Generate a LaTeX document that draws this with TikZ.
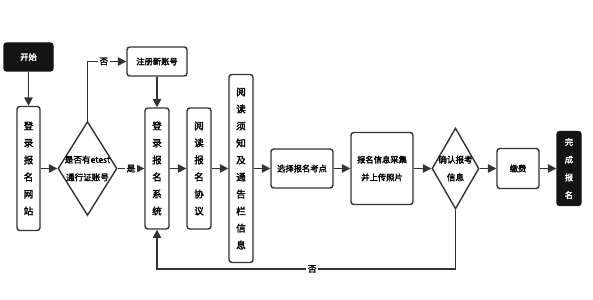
\documentclass[tikz,border=0pt]{standalone}
\usepackage{fontspec}
\setmainfont{Noto Sans CJK SC}[AutoFakeBold=2.2]
\usetikzlibrary{arrows.meta,shapes.geometric}
\definecolor{flowline}{HTML}{333333}
\definecolor{flowdark}{HTML}{141414}
\newdimen\pxu \pxu=0.025cm

\begin{document}
\begin{tikzpicture}[
  x=\pxu, y=-\pxu,
  box/.style={draw=flowline, line width=1pt, rounded corners=2pt, fill=white,
    inner sep=0pt, align=center, font=\bfseries\fontsize{5.9}{12.6}\selectfont},
  vbox/.style={box, font=\bfseries\fontsize{6.8}{12.1}\selectfont},
  term/.style={box, fill=flowdark, draw=flowdark, text=white},
  decision/.style={diamond, draw=flowline, line width=1pt, fill=white, inner sep=0pt},
  dtext/.style={align=center, inner sep=0pt, font=\bfseries\fontsize{6.1}{12.6}\selectfont},
  arr/.style={draw=flowline, line width=1.1pt, -{Triangle[length=6pt,width=6pt]}},
  lbl/.style={fill=white, inner sep=1pt, font=\bfseries\fontsize{6.3}{7}\selectfont}
]
  \fill[white] (0,0) rectangle (593,300);
  \useasboundingbox (0,0) rectangle (593,300);

  % nodes
  \node[term, minimum width=49\pxu, minimum height=28\pxu] (start) at (28.5,57) {开始};
  \node[vbox, minimum width=23\pxu, minimum height=124\pxu] (site) at (28.5,168.5) {登\\录\\报\\名\\网\\站};
  \node[decision, minimum width=59\pxu, minimum height=94\pxu] (q1) at (87.5,168.5) {};
  \node[dtext] (q1txt) at (q1) {是否有etest\\通行证账号};
  \node[box, minimum width=60\pxu, minimum height=29\pxu] (reg) at (157,61.5) {注册新账号};
  \node[vbox, minimum width=24\pxu, minimum height=121\pxu] (sys) at (157,168.5) {登\\录\\报\\名\\系\\统};
  \node[vbox, minimum width=24\pxu, minimum height=121\pxu] (proto) at (199,168.5) {阅\\读\\报\\名\\协\\议};
  \node[vbox, minimum width=24\pxu, minimum height=188\pxu] (notice) at (241,168.5) {阅\\读\\须\\知\\及\\通\\告\\栏\\信\\息};
  \node[box, minimum width=62\pxu, minimum height=39\pxu] (point) at (302,168.5) {选择报名考点};
  \node[box, minimum width=62\pxu, minimum height=72\pxu] (collect) at (382,168.5) {报名信息采集\\并上传照片};
  \node[decision, minimum width=47\pxu, minimum height=81\pxu] (q2) at (455.5,168.5) {};
  \node[dtext] (q2txt) at (q2) {确认报考\\信息};
  \node[box, minimum width=42\pxu, minimum height=40\pxu] (pay) at (518,168.5) {缴费};
  \node[term, minimum width=24\pxu, minimum height=74\pxu] (finish) at (569,168.5) {完\\成\\报\\名};
  \coordinate (loopR) at (455.5,269);

  % connectors
  \draw[arr] (start.south) -- (site.north);
  \draw[arr] (site.east) -- (q1.west);
  \draw[arr] (q1.north) |- node[pos=0.71, lbl]{否} (reg.west);
  \draw[arr] (q1.east) -- node[lbl]{是} (sys.west);
  \draw[arr] (reg.south) -- (sys.north);
  \draw[arr] (sys.east) -- (proto.west);
  \draw[arr] (proto.east) -- (notice.west);
  \draw[arr] (notice.east) -- (point.west);
  \draw[arr] (point.east) -- (collect.west);
  \draw[arr] (collect.east) -- (q2.west);
  \draw[arr] (q2.east) -- (pay.west);
  \draw[arr] (pay.east) -- (finish.west);
  \draw[arr] (q2.south) -- (loopR) -| node[pos=0.24, lbl]{否} (sys.south);
\end{tikzpicture}
\end{document}
